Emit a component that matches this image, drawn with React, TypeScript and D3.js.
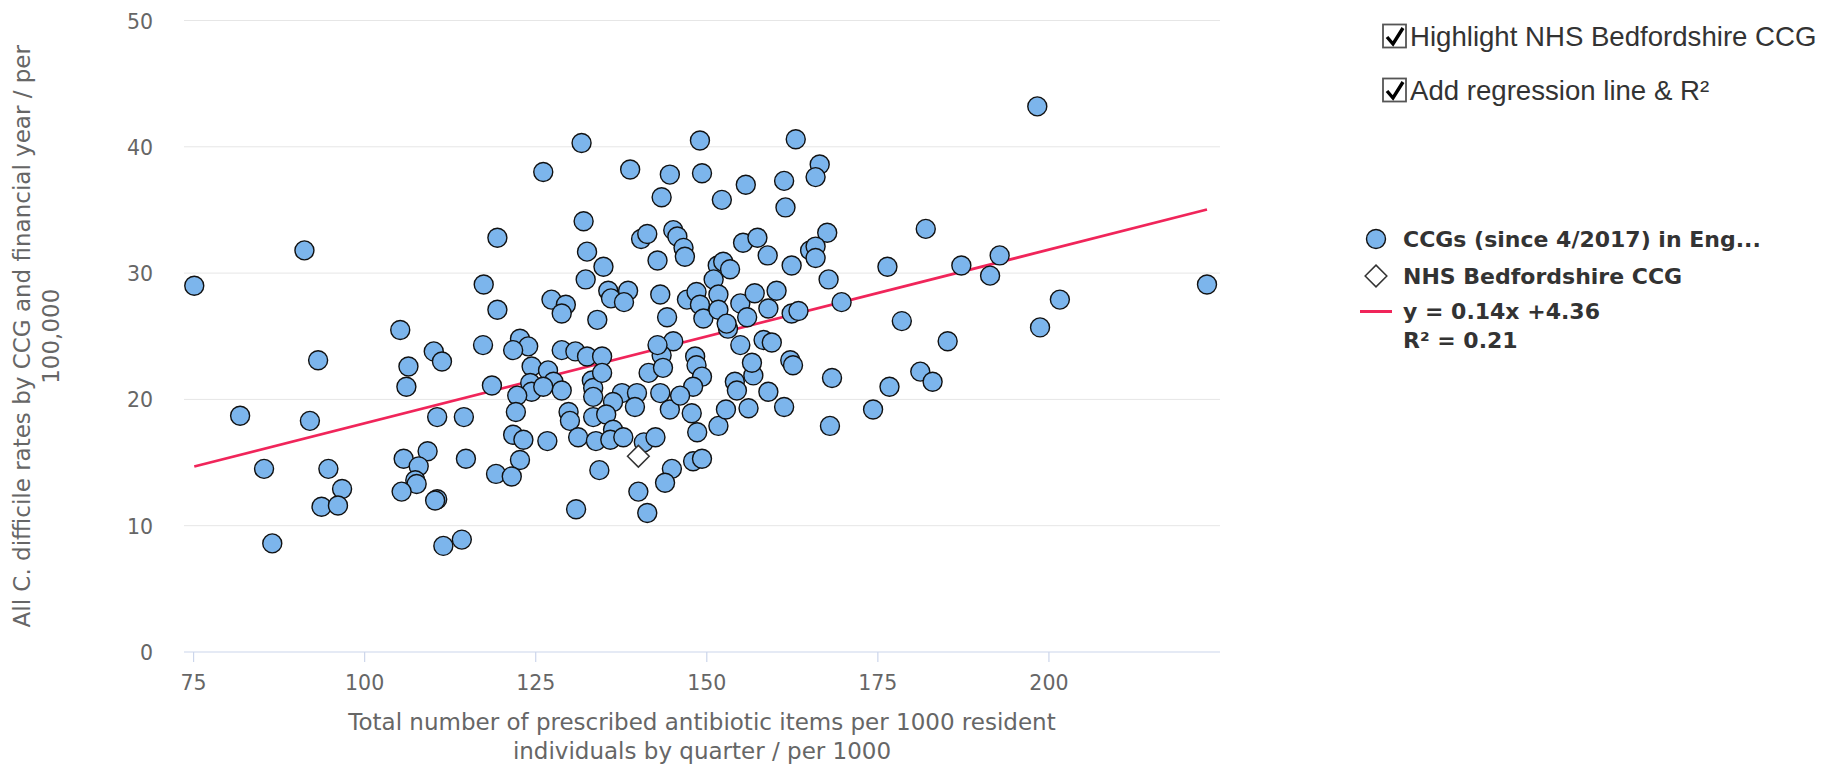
import React from "react";
import * as d3 from "d3";

// ---- data ----
const ccgX: number[] = [
  75.1, 91.2, 93.2, 81.8, 92.0, 85.3, 94.7, 96.7, 93.7, 96.1, 86.5,
  131.7, 126.1, 138.8, 132.0, 119.4, 132.5, 134.9, 132.3, 140.4, 141.3, 142.8, 117.4, 119.4, 127.3, 129.4, 128.8, 134.0, 135.6, 136.0, 138.5, 137.9, 105.2, 117.3, 122.7, 123.9,
  110.1, 111.3, 121.7, 106.4, 106.1, 118.6, 128.8, 130.8, 132.5, 134.7, 124.4, 126.8, 127.6, 128.8, 124.2, 124.4, 122.3, 122.1, 126.1, 133.2, 133.4, 134.7, 133.4, 137.6, 139.8, 139.5, 136.3, 141.5, 110.6, 114.5, 129.8, 130.0, 133.4, 135.3, 131.2, 133.8, 136.3, 135.9, 137.8, 121.7, 123.2, 126.7, 122.7, 119.2, 121.5, 114.8, 109.2, 105.7, 107.9, 107.4, 107.6, 105.4, 110.6, 110.3, 111.5, 114.2, 130.9, 134.3, 140.8, 140.0, 141.3,
  149.0, 163.0, 166.5, 165.9, 144.6, 149.3, 155.7, 161.3, 143.4, 152.2, 161.5, 145.1, 145.7, 146.6, 146.8, 155.3, 157.4, 158.9, 162.4, 167.6, 165.1, 165.9, 165.9, 176.4, 151.6, 152.4, 153.4, 151.0, 151.7, 143.2, 144.2, 147.1, 148.5, 149.0, 149.5, 151.7, 154.9, 157.0, 160.2, 159.0, 155.9, 162.4, 163.4, 167.8, 169.7, 178.5, 153.1, 152.9, 145.1, 154.9, 158.3, 159.5,
  143.4, 142.8, 148.3, 148.5, 149.3, 148.0, 143.6, 143.2, 144.6, 146.1, 147.8, 148.6, 142.5, 144.9, 143.9, 148.0, 149.3, 151.7, 152.8, 156.1, 154.1, 154.4, 156.8, 156.6, 159.0, 162.2, 162.6, 161.3, 168.3, 168.0, 174.3, 176.7,
  198.3, 182.0, 187.2, 192.8, 191.4, 223.1, 201.6, 198.7, 185.2, 181.2, 183.0,
];
const ccgY: number[] = [
  29.0, 31.8, 23.1, 18.7, 18.3, 14.5, 14.5, 12.9, 11.5, 11.6, 8.6,
  40.3, 38.0, 38.2, 34.1, 32.8, 31.7, 30.5, 29.5, 32.7, 33.1, 31.0, 29.1, 27.1, 27.9, 27.5, 26.8, 26.3, 28.6, 28.0, 28.6, 27.7, 25.5, 24.3, 24.8, 24.2,
  23.8, 23.0, 23.9, 22.6, 21.0, 21.1, 23.9, 23.8, 23.4, 23.4, 22.6, 22.3, 21.4, 20.7, 21.3, 20.6, 20.3, 19.0, 21.0, 21.5, 20.9, 22.1, 20.2, 20.5, 20.5, 19.4, 19.8, 22.1, 18.6, 18.6, 19.0, 18.3, 18.6, 18.8, 17.0, 16.7, 17.6, 16.8, 17.0, 17.2, 16.8, 16.7, 15.2, 14.1, 13.9, 15.3, 15.9, 15.3, 14.7, 13.6, 13.3, 12.7, 12.1, 12.0, 8.4, 8.9, 11.3, 14.4, 16.6, 12.7, 11.0,
  40.5, 40.6, 38.6, 37.6, 37.8, 37.9, 37.0, 37.3, 36.0, 35.8, 35.2, 33.4, 32.9, 32.0, 31.3, 32.4, 32.8, 31.4, 30.6, 33.2, 31.8, 32.1, 31.2, 30.5, 30.6, 30.9, 30.3, 29.5, 28.3, 28.3, 26.5, 27.9, 28.5, 27.5, 26.4, 27.1, 27.6, 28.4, 28.6, 27.2, 26.5, 26.8, 27.0, 29.5, 27.7, 26.2, 25.6, 26.0, 24.6, 24.3, 24.7, 24.5,
  23.5, 24.3, 23.4, 22.7, 21.8, 21.0, 22.5, 20.5, 19.2, 20.3, 18.9, 17.4, 17.0, 14.5, 13.4, 15.1, 15.3, 17.9, 19.2, 19.3, 21.4, 20.7, 21.9, 22.9, 20.6, 23.1, 22.7, 19.4, 21.7, 17.9, 19.2, 21.0,
  43.2, 33.5, 30.6, 31.4, 29.8, 29.1, 27.9, 25.7, 24.6, 22.2, 21.4,
];
const highlightX: number[] = [140.0];
const highlightY: number[] = [15.5];
const regSlope = 0.1375;
const regIntercept = 4.36;
const xTicks: number[] = [75, 100, 125, 150, 175, 200];
const yTicks: number[] = [0, 10, 20, 30, 40, 50];
const seriesNames: string[] = ["CCGs (since 4/2017) in Eng...", "NHS Bedfordshire CCG"];
const regLabels: string[] = ["y = 0.14x +4.36", "R² = 0.21"];
const checkboxLabels: string[] = ["Highlight NHS Bedfordshire CCG", "Add regression line & R²"];
const xTitleLines: string[] = ["Total number of prescribed antibiotic items per 1000 resident", "individuals by quarter / per 1000"];
const yTitleLines: string[] = ["All C. difficile rates by CCG and financial year / per", "100,000"];

const W = 1830;
const H = 764;
const plot = { left: 184, right: 1220, top: 20.5, bottom: 652 };
const FONT = "'DejaVu Sans', 'Lucida Grande', Verdana, sans-serif";

export default function App() {
  const x = d3.scaleLinear().domain([73.6, 225]).range([plot.left, plot.right]);
  const y = d3.scaleLinear().domain([0, 50]).range([plot.bottom, plot.top]);
  const points = ccgX.map((v, i) => ({ x: v, y: ccgY[i] }));
  const [xmin, xmax] = d3.extent(ccgX) as [number, number];
  const regLine = d3
    .line<number>()
    .x((d) => x(d))
    .y((d) => y(regSlope * d + regIntercept));
  const diamond = d3.symbol().type(d3.symbolDiamond2).size(300);
  const r = 9.5;

  return (
    <svg
      width={W}
      height={H}
      style={{ position: "absolute", left: 0, top: 0, background: "#fff" }}
      fontFamily={FONT}
    >
      {/* grid */}
      {yTicks
        .filter((t) => t > 0)
        .map((t) => (
          <line key={"g" + t} x1={plot.left} x2={plot.right} y1={y(t)} y2={y(t)} stroke="#e6e6e6" strokeWidth={1} />
        ))}
      {/* x axis line & ticks */}
      <line x1={plot.left} x2={plot.right} y1={plot.bottom} y2={plot.bottom} stroke="#ccd6eb" strokeWidth={1.2} />
      {xTicks.map((t) => (
        <g key={"xt" + t}>
          <line x1={x(t)} x2={x(t)} y1={plot.bottom} y2={plot.bottom + 10} stroke="#ccd6eb" strokeWidth={1.2} />
          <text x={x(t)} y={690} textAnchor="middle" fontSize={20.5} fill="#666">
            {t}
          </text>
        </g>
      ))}
      {yTicks.map((t) => (
        <text key={"yt" + t} x={153} y={y(t) + 8} textAnchor="end" fontSize={20.5} fill="#666">
          {t}
        </text>
      ))}
      {/* axis titles */}
      {xTitleLines.map((s, i) => (
        <text key={"xl" + i} x={(plot.left + plot.right) / 2} y={730 + i * 29} textAnchor="middle" fontSize={23} fill="#666">
          {s}
        </text>
      ))}
      {yTitleLines.map((s, i) => (
        <text
          key={"yl" + i}
          transform={`translate(${30 + i * 28.5},${(plot.top + plot.bottom) / 2}) rotate(-90)`}
          textAnchor="middle"
          fontSize={23}
          fill="#666"
        >
          {s}
        </text>
      ))}
      {/* regression line */}
      <path d={regLine([xmin, xmax]) || ""} stroke="#f0255a" strokeWidth={2.8} fill="none" />
      {/* scatter */}
      {points.map((p, i) => (
        <circle key={"p" + i} cx={x(p.x)} cy={y(p.y)} r={r} fill="#7cb5ec" stroke="#111" strokeWidth={1.4} />
      ))}
      {highlightX.map((v, i) => (
        <path
          key={"h" + i}
          d={diamond() || ""}
          transform={`translate(${x(v)},${y(highlightY[i])})`}
          fill="#fff"
          stroke="#333"
          strokeWidth={1.5}
        />
      ))}
      {/* checkboxes */}
      {checkboxLabels.map((s, i) => {
        const cy = 36 + i * 54;
        return (
          <g key={"cb" + i}>
            <rect x={1383} y={cy - 11.5} width={23} height={23} fill="#fff" stroke="#555" strokeWidth={1.8} />
            <path
              d={`M${1387},${cy + 1} L${1393},${cy + 8} L${1403},${cy - 8}`}
              fill="none"
              stroke="#000"
              strokeWidth={3.4}
            />
            <text x={1410} y={cy} dominantBaseline="central" fontSize={27.6} fill="#333" fontFamily="'Liberation Sans', Arial, sans-serif">
              {s}
            </text>
          </g>
        );
      })}
      {/* legend */}
      <g fontWeight="bold" fontSize={22} fill="#333">
        <circle cx={1376} cy={239} r={r} fill="#7cb5ec" stroke="#111" strokeWidth={1.4} />
        <text x={1403} y={239} dominantBaseline="central">
          {seriesNames[0]}
        </text>
        <path d={diamond() || ""} transform="translate(1376,276)" fill="#fff" stroke="#333" strokeWidth={1.5} />
        <text x={1403} y={276} dominantBaseline="central">
          {seriesNames[1]}
        </text>
        <line x1={1360} x2={1392} y1={311.5} y2={311.5} stroke="#f0255a" strokeWidth={3} />
        <text x={1403} y={311.5} dominantBaseline="central">
          {regLabels[0]}
        </text>
        <text x={1403} y={340} dominantBaseline="central">
          {regLabels[1]}
        </text>
      </g>
    </svg>
  );
}
